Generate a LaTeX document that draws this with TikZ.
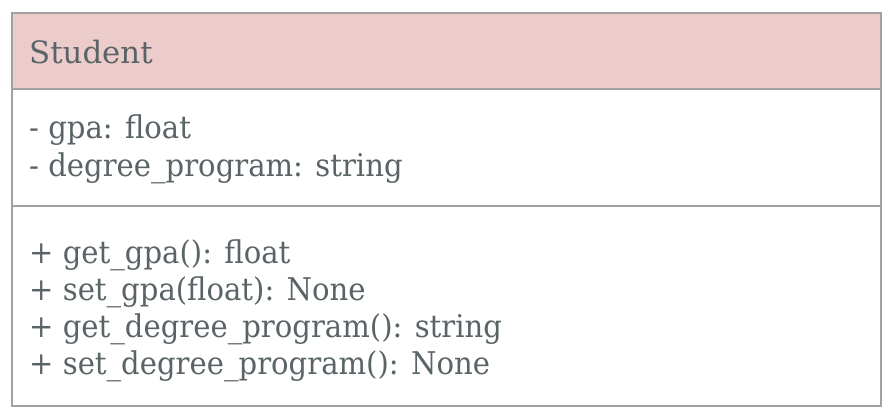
\documentclass[tikz,border=0pt]{standalone}
\usepackage{fontspec}
\setmainfont{DejaVu Serif}
\newfontfamily\bodyfont[FakeStretch=0.93]{DejaVu Serif}
\definecolor{txt}{RGB}{90,100,103}
\definecolor{bord}{RGB}{162,162,162}
\definecolor{headfill}{RGB}{236,204,203}
\begin{document}
\begin{tikzpicture}[x=1pt,y=-1pt,
  comp/.style={draw=bord, line width=1.6pt, anchor=north west, inner sep=0pt, minimum width=869pt},
  lbl/.style={anchor=base west, inner sep=0pt, text=txt, font=\bodyfont\fontsize{31.3}{36}\selectfont},
  title/.style={anchor=base west, inner sep=0pt, text=txt, font=\fontsize{30.8}{36}\selectfont}]
\useasboundingbox (0,0) rectangle (894,418);
\node[comp, fill=headfill, minimum height=76pt] (head) at (11,12) {};
\node[comp, minimum height=117pt] (attrs) at (11,88) {};
\node[comp, minimum height=200pt] (meths) at (11,205) {};
\node[title] (cname) at (29,63) {Student};
\node[lbl] (a1) at (29,138) {- gpa: float};
\node[lbl] (a2) at (29,176) {- degree\_program: string};
\node[lbl] (m1) at (29,263) {+ get\_gpa(): float};
\node[lbl] (m2) at (29,300) {+ set\_gpa(float): None};
\node[lbl] (m3) at (29,337) {+ get\_degree\_program(): string};
\node[lbl] (m4) at (29,374) {+ set\_degree\_program(): None};
\end{tikzpicture}
\end{document}
